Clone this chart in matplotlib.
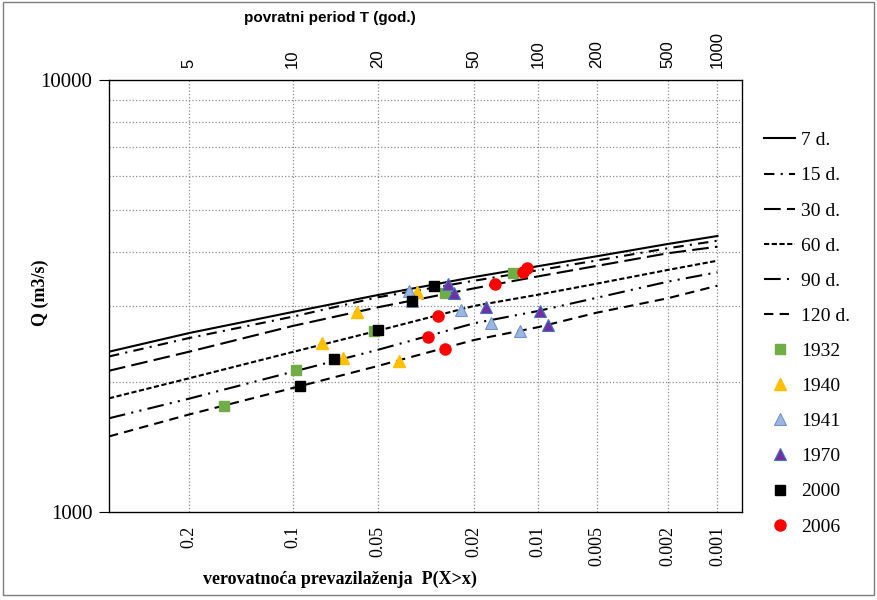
import numpy as np
import matplotlib
matplotlib.use('Agg')
import matplotlib.pyplot as plt
from matplotlib.ticker import FixedLocator, FixedFormatter, NullFormatter, NullLocator, LogLocator
from matplotlib.patches import Rectangle
from statistics import NormalDist

# exceedance probabilities where the curves were read
p_line = [0.3085, 0.2, 0.1, 0.05, 0.02, 0.01, 0.005, 0.002, 0.001]
q_7d = [2350, 2596, 2904, 3179, 3499, 3707, 3908, 4172, 4354]
q_15d = [2291, 2528, 2832, 3141, 3430, 3627, 3821, 4078, 4246]
q_30d = [2123, 2350, 2695, 2978, 3294, 3511, 3712, 3971, 4113]
q_60d = [1833, 2040, 2346, 2629, 2999, 3184, 3377, 3633, 3817]
q_90d = [1648, 1830, 2111, 2374, 2734, 2919, 3132, 3413, 3589]
q_120d = [1496, 1682, 1936, 2178, 2501, 2678, 2893, 3124, 3341]

# historic floods
p_1932 = [0.161, 0.0973, 0.0516, 0.0267, 0.0132]
q_1932 = [1760, 2132, 2624, 3213, 3575]
p_1940 = [0.0796, 0.0671, 0.0597, 0.0413, 0.0349]
q_1940 = [2461, 2273, 2904, 2236, 3231]
p_1941 = [0.0376, 0.0366, 0.0228, 0.0168, 0.0123]
q_1941 = [3248, 3078, 2935, 2738, 2624]
p_1970 = [0.0261, 0.0244, 0.0176, 0.0098, 0.0089]
q_1970 = [3372, 3213, 2982, 2919, 2709]
p_2000 = [0.0943, 0.0722, 0.0498, 0.0369, 0.0297]
q_2000 = [1957, 2261, 2638, 3078, 3336]
p_2006 = [0.0317, 0.0286, 0.0269, 0.0160, 0.0119, 0.0113]
q_2006 = [2542, 2843, 2384, 3372, 3594, 3671]

p_ticks = [0.2, 0.1, 0.05, 0.02, 0.01, 0.005, 0.002, 0.001]
p_tick_labels = ['0.2', '0.1', '0.05', '0.02', '0.01', '0.005', '0.002', '0.001']
t_ticks = [5, 10, 20, 50, 100, 200, 500, 1000]

nd = NormalDist()
_ppf = np.vectorize(nd.inv_cdf, otypes=[float])
_cdf = np.vectorize(nd.cdf, otypes=[float])


def fwd(p):
    p = np.clip(np.asarray(p, dtype=float), 1e-9, 1 - 1e-9)
    return _ppf(p)


def inv(z):
    return _cdf(np.asarray(z, dtype=float))


serif = 'Liberation Serif'
sans = 'Liberation Sans'

fig = plt.figure(figsize=(8.77, 6.0), dpi=100)
ax = fig.add_axes([109 / 877, 1 - 512 / 600, 633 / 877, 432 / 600])

ax.set_xscale('function', functions=(fwd, inv))
ax.set_yscale('log')
ax.set_xlim(0.3085, 0.0007)
ax.set_ylim(1000, 10000)

lw = 1.5
ax.plot(p_line, q_7d, color='black', lw=lw, linestyle='-', label='7 d.')
ax.plot(p_line, q_15d, color='black', lw=lw, dashes=(5, 3, 1, 3), label='15 d.')
ax.plot(p_line, q_30d, color='black', lw=lw, dashes=(8, 3), label='30 d.')
ax.plot(p_line, q_60d, color='black', lw=lw, dashes=(2.5, 1.2), label='60 d.')
ax.plot(p_line, q_90d, color='black', lw=lw, dashes=(8, 3, 1, 3, 1, 3), label='90 d.')
ax.plot(p_line, q_120d, color='black', lw=lw, dashes=(4.5, 3), label='120 d.')

ms = 7.5
ax.plot(p_1932, q_1932, 's', color='#70AD47', mec='#70AD47', ms=ms, label='1932')
ax.plot(p_1940, q_1940, '^', color='#FFC000', mec='#FFC000', ms=ms + 0.5, label='1940')
ax.plot(p_1941, q_1941, '^', color='#9DB6E0', mec='#6F93D0', mew=0.8, ms=ms + 0.5, label='1941')
ax.plot(p_1970, q_1970, '^', color='#7030A0', mec='#4472C4', mew=0.8, ms=ms + 0.5, label='1970')
ax.plot(p_2000, q_2000, 's', color='black', mec='black', ms=ms, label='2000')
ax.plot(p_2006, q_2006, 'o', color='#FF0000', mec='#FF0000', ms=ms + 0.5, label='2006')

# bottom axis: exceedance probability
ax.xaxis.set_major_locator(FixedLocator(p_ticks))
ax.xaxis.set_major_formatter(FixedFormatter(p_tick_labels))
ax.xaxis.set_minor_locator(NullLocator())
ax.tick_params(axis='x', which='both', length=0, pad=10, labelrotation=90)
for lab in ax.get_xticklabels():
    lab.set_fontfamily(serif)
    lab.set_fontsize(13)

# y axis
ax.yaxis.set_major_locator(FixedLocator([1000, 10000]))
ax.yaxis.set_major_formatter(FixedFormatter(['1000', '10000']))
ax.yaxis.set_minor_locator(LogLocator(base=10, subs=np.arange(2, 10)))
ax.yaxis.set_minor_formatter(NullFormatter())
ax.tick_params(axis='y', which='major', length=7, width=0.8, pad=5, direction='out')
ax.tick_params(axis='y', which='minor', length=0)
for lab in ax.get_yticklabels():
    lab.set_fontfamily(serif)
    lab.set_fontsize(15)

ax.grid(True, axis='x', which='major', color='#8c8c8c', linestyle=':', lw=0.9)
ax.grid(True, axis='y', which='minor', color='#8c8c8c', linestyle=':', lw=0.9)
for s in ax.spines.values():
    s.set_linewidth(0.9)
    s.set_color('black')

# top axis: return period
ax2 = ax.twiny()
ax2.set_xscale('function', functions=(fwd, inv))
ax2.set_xlim(ax.get_xlim())
ax2.xaxis.set_major_locator(FixedLocator([1.0 / t for t in t_ticks]))
ax2.xaxis.set_major_formatter(FixedFormatter([str(t) for t in t_ticks]))
ax2.xaxis.set_minor_locator(NullLocator())
ax2.tick_params(axis='x', which='both', length=0, pad=9, labelrotation=90)
for lab in ax2.get_xticklabels():
    lab.set_fontfamily(sans)
    lab.set_fontsize(12)

fig.text(330 / 877, 1 - 18 / 600, 'povratni period T (god.)', fontfamily=sans,
         fontsize=11, fontweight='bold', ha='center', va='center')
fig.text(340 / 877, 1 - 579 / 600, 'verovatnoća prevazilaženja  P(X>x)', fontfamily=serif,
         fontsize=13, fontweight='bold', ha='center', va='center')
fig.text(40 / 877, 1 - 293 / 600, 'Q (m3/s)', fontfamily=serif, fontsize=13,
         fontweight='bold', ha='center', va='center', rotation=90)

leg = ax.legend(loc='center left', bbox_to_anchor=(1.02, 0.413), frameon=False,
                prop={'family': serif, 'size': 14}, handlelength=1.6,
                handletextpad=0.3, labelspacing=0.9, borderpad=0)

fig.patches.append(Rectangle((0.003, 0.008), 0.994, 0.989, transform=fig.transFigure,
                             fill=False, edgecolor='#7f7f7f', lw=1.0))

fig.savefig('out.png', dpi=100)
